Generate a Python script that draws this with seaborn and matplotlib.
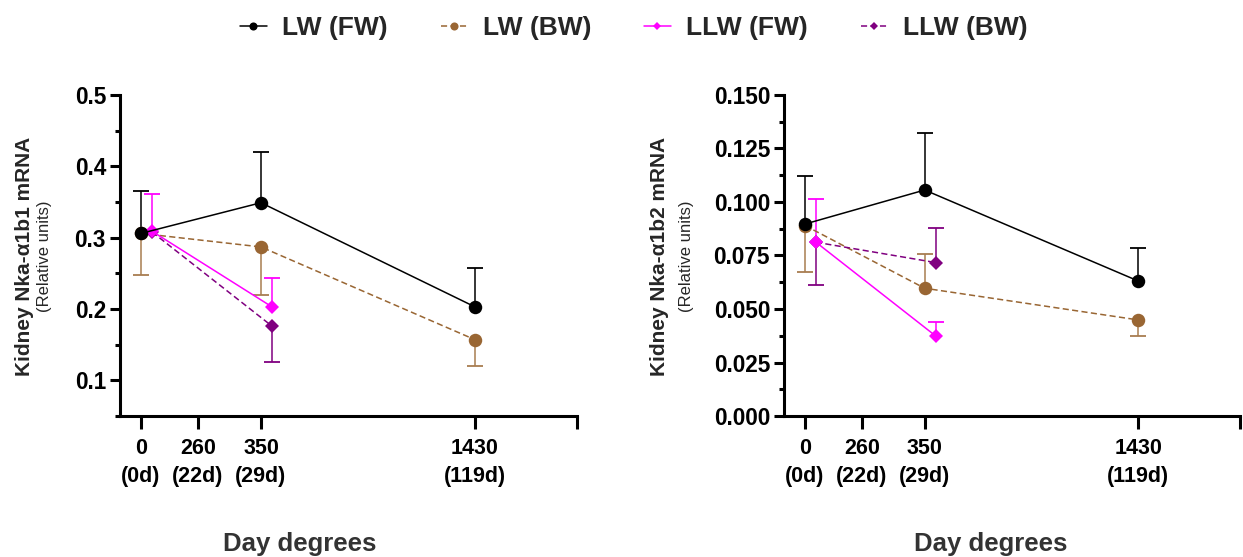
import numpy as np
import matplotlib
matplotlib.use("Agg")
import matplotlib.pyplot as plt
import matplotlib.transforms as mtransforms
from matplotlib.lines import Line2D
from matplotlib.ticker import MultipleLocator, FormatStrFormatter
import seaborn as sns

# ---------------------------------------------------------------- data
tick_days = [0, 260, 350, 1430]
tick_labels = ["0\n(0d)", "260\n(22d)", "350\n(29d)", "1430\n(119d)"]

lw_days = [0, 350, 1430]
llw_days = [0, 350]

series_names = ["LW (FW)", "LW (BW)", "LLW (FW)", "LLW (BW)"]

# Kidney Nka-α1b1
b1_lw_fw = [0.306, 0.349, 0.203]
b1_lw_fw_lo = [0.0, 0.0, 0.0]
b1_lw_fw_hi = [0.059, 0.071, 0.055]

b1_lw_bw = [0.306, 0.287, 0.157]
b1_lw_bw_lo = [0.059, 0.067, 0.037]
b1_lw_bw_hi = [0.0, 0.0, 0.0]

b1_llw_fw = [0.309, 0.203]
b1_llw_fw_lo = [0.0, 0.0]
b1_llw_fw_hi = [0.052, 0.040]

b1_llw_bw = [0.308, 0.176]
b1_llw_bw_lo = [0.0, 0.050]
b1_llw_bw_hi = [0.0, 0.0]

# Kidney Nka-α1b2
b2_lw_fw = [0.0897, 0.1056, 0.0631]
b2_lw_fw_lo = [0.0, 0.0, 0.0]
b2_lw_fw_hi = [0.0224, 0.0265, 0.0155]

b2_lw_bw = [0.0890, 0.0597, 0.0449]
b2_lw_bw_lo = [0.0219, 0.0, 0.0075]
b2_lw_bw_hi = [0.0, 0.0160, 0.0]

b2_llw_fw = [0.0812, 0.0374]
b2_llw_fw_lo = [0.0, 0.0]
b2_llw_fw_hi = [0.0202, 0.0067]

b2_llw_bw = [0.0812, 0.0717]
b2_llw_bw_lo = [0.0200, 0.0]
b2_llw_bw_hi = [0.0, 0.0160]

# ---------------------------------------------------------------- style
sns.set_style("ticks")
plt.rcParams["font.family"] = ["Liberation Sans", "DejaVu Sans"]
plt.rcParams["font.weight"] = "bold"
plt.rcParams["axes.labelweight"] = "bold"

BLACK = "#000000"
BROWN = "#996633"
BROWN_ERR = "#A87D50"
MAGENTA = "#FF00FF"
PURPLE = "#800080"

styles = {
    "LW (FW)": dict(color=BLACK, ecolor=BLACK, marker="o", ms=9.7, ls="-", shift=False),
    "LW (BW)": dict(color=BROWN, ecolor=BROWN_ERR, marker="o", ms=9.7, ls=(0, (4, 2.2)), shift=False),
    "LLW (FW)": dict(color=MAGENTA, ecolor=MAGENTA, marker="D", ms=6.8, ls="-", shift=True),
    "LLW (BW)": dict(color=PURPLE, ecolor=PURPLE, marker="D", ms=6.8, ls=(0, (4, 2.2)), shift=True),
}

# Segmented day-degree axis: piecewise-linear mapping to drawing units
dd_knots = [-100.0, 0.0, 260.0, 350.0, 1430.0, 2000.0]
pos_knots = [-21.9, 0.0, 57.0, 120.0, 334.0, 447.0]
X_LEFT, X_RIGHT = -96.0, 1945.0


def fwd(x):
    return np.interp(x, dd_knots, pos_knots)


def inv(p):
    return np.interp(p, pos_knots, dd_knots)


W, H = 1243, 557
fig = plt.figure(figsize=(W / 100, H / 100), dpi=100)

ax1 = fig.add_axes([120 / W, 1 - 416 / H, 457 / W, 321 / H])
ax2 = fig.add_axes([784 / W, 1 - 416 / H, 456 / W, 321 / H])

panel1 = {
    "LW (FW)": (lw_days, b1_lw_fw, b1_lw_fw_lo, b1_lw_fw_hi),
    "LW (BW)": (lw_days, b1_lw_bw, b1_lw_bw_lo, b1_lw_bw_hi),
    "LLW (FW)": (llw_days, b1_llw_fw, b1_llw_fw_lo, b1_llw_fw_hi),
    "LLW (BW)": (llw_days, b1_llw_bw, b1_llw_bw_lo, b1_llw_bw_hi),
}
panel2 = {
    "LW (FW)": (lw_days, b2_lw_fw, b2_lw_fw_lo, b2_lw_fw_hi),
    "LW (BW)": (lw_days, b2_lw_bw, b2_lw_bw_lo, b2_lw_bw_hi),
    "LLW (FW)": (llw_days, b2_llw_fw, b2_llw_fw_lo, b2_llw_fw_hi),
    "LLW (BW)": (llw_days, b2_llw_bw, b2_llw_bw_lo, b2_llw_bw_hi),
}

shift = mtransforms.ScaledTranslation(11 / 100, 0, fig.dpi_scale_trans)


def draw_panel(ax, panel):
    ax.set_xscale("function", functions=(fwd, inv))
    draw_order = ["LW (BW)", "LLW (BW)", "LLW (FW)", "LW (FW)"]
    for z, name in enumerate(draw_order):
        x, y, lo, hi = panel[name]
        st = styles[name]
        trans = ax.transData + shift if st["shift"] else ax.transData
        x_arr, y_arr = np.asarray(x, float), np.asarray(y, float)
        lo_arr, hi_arr = np.asarray(lo, float), np.asarray(hi, float)
        # one-sided error bars: stems plus caps only on the drawn side
        ax.errorbar(x_arr, y_arr, yerr=[lo_arr, hi_arr], fmt="none",
                    ecolor=st["ecolor"], elinewidth=1.1, capsize=0,
                    transform=trans, zorder=2 + z)
        ends_x = np.concatenate([x_arr[hi_arr > 0], x_arr[lo_arr > 0]])
        ends_y = np.concatenate([(y_arr + hi_arr)[hi_arr > 0], (y_arr - lo_arr)[lo_arr > 0]])
        ax.plot(ends_x, ends_y, linestyle="none", marker="_", markersize=11,
                markeredgewidth=1.3, color=st["ecolor"], transform=trans, zorder=2 + z)
        sns.lineplot(x=x, y=y, ax=ax, color=st["color"], marker=st["marker"],
                     markersize=st["ms"], markeredgewidth=0, linestyle=st["ls"],
                     linewidth=1.1, estimator=None, sort=False, errorbar=None,
                     legend=False, transform=trans, zorder=6 + z)
    ax.set_xlim(X_LEFT, X_RIGHT)
    ax.set_xticks(tick_days + [X_RIGHT], tick_labels + [""], linespacing=1.45)
    ax.xaxis.set_minor_locator(matplotlib.ticker.NullLocator())
    ax.tick_params(axis="x", which="major", length=9.5, width=2.2, pad=6,
                   labelsize=15.5, color="black", labelcolor="black")
    ax.tick_params(axis="y", which="major", length=7, width=2.2, pad=3,
                   labelsize=16.3, color="black", labelcolor="black")
    ax.tick_params(axis="y", which="minor", length=3.8, width=2.2, color="black")
    sns.despine(ax=ax)
    for side in ("left", "bottom"):
        ax.spines[side].set_linewidth(2.2)
        ax.spines[side].set_color("black")
    ax.set_xlabel("Day degrees", fontsize=18.5, color="#333333")
    ax.set_ylabel("")


draw_panel(ax1, panel1)
ax1.set_ylim(0.05, 0.5)
ax1.yaxis.set_major_locator(MultipleLocator(0.1))
ax1.yaxis.set_minor_locator(MultipleLocator(0.05))
ax1.yaxis.set_major_formatter(FormatStrFormatter("%.1f"))
ax1.set_yticks([0.1, 0.2, 0.3, 0.4, 0.5])
ax1.xaxis.set_label_coords(0.394, -0.36)

draw_panel(ax2, panel2)
ax2.set_ylim(0.0, 0.15)
ax2.yaxis.set_major_locator(MultipleLocator(0.025))
ax2.yaxis.set_minor_locator(MultipleLocator(0.0125))
ax2.yaxis.set_major_formatter(FormatStrFormatter("%.3f"))
ax2.xaxis.set_label_coords(0.454, -0.36)

# y-axis titles
yc = 1 - 256 / H
fig.text(25 / W, yc, "Kidney Nka-α1b1 mRNA", rotation=90, ha="center", va="center",
         fontsize=15, fontweight="bold")
fig.text(45 / W, yc, "(Relative units)", rotation=90, ha="center", va="center",
         fontsize=12, fontweight="normal")
fig.text(659 / W, yc, "Kidney Nka-α1b2 mRNA", rotation=90, ha="center", va="center",
         fontsize=15, fontweight="bold")
fig.text(687 / W, yc, "(Relative units)", rotation=90, ha="center", va="center",
         fontsize=12, fontweight="normal")

# shared legend across the top
handles = []
for name in series_names:
    st = styles[name]
    handles.append(Line2D([], [], color=st["color"], marker=st["marker"],
                          markersize=st["ms"] * 0.6, markeredgewidth=0,
                          linestyle=st["ls"], linewidth=1.1))
fig.legend(handles, series_names, loc="center", bbox_to_anchor=(634 / W, 1 - 28 / H),
           ncol=4, frameon=False, prop=dict(size=19, weight="bold"),
           handlelength=1.0, handletextpad=0.6, columnspacing=2.0)

fig.savefig("out.png", dpi=100)
